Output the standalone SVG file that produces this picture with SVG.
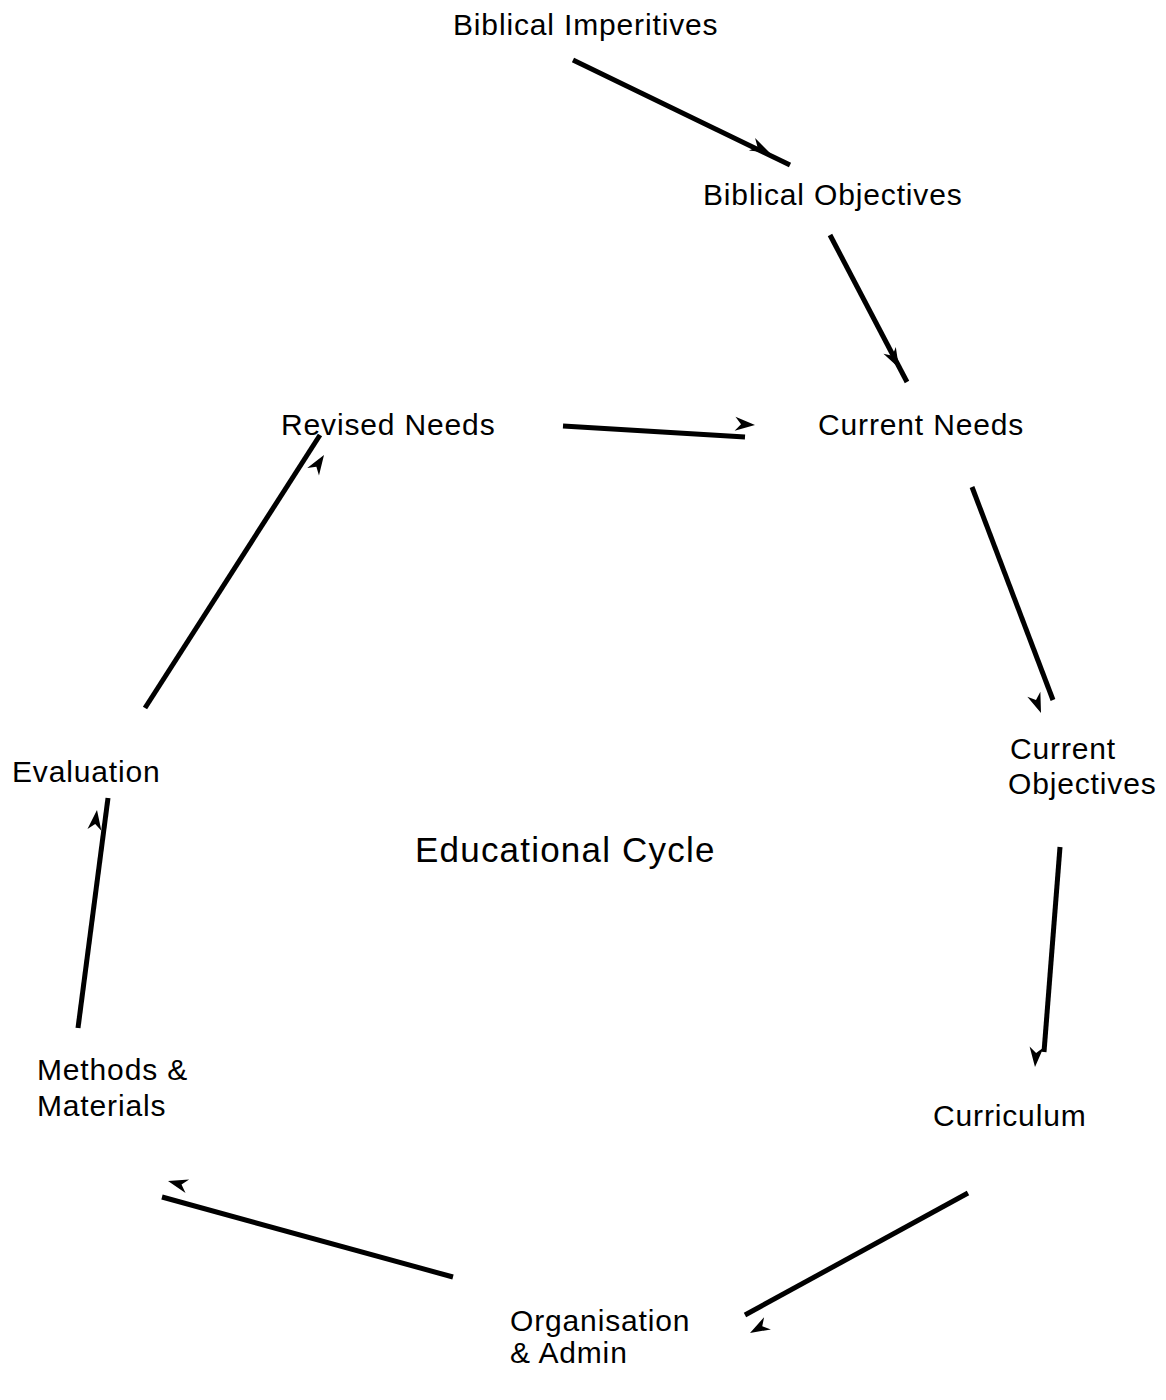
<svg xmlns="http://www.w3.org/2000/svg" xmlns:xlink="http://www.w3.org/1999/xlink" width="1166" height="1400" viewBox="0 0 1166 1400">
<style>
text{font-family:"Liberation Sans",Arial,sans-serif;font-size:30px;fill:#000;letter-spacing:0.85px}
.title{font-size:35px;letter-spacing:1.2px}
.ln{stroke:#000;stroke-width:5;fill:none}
</style>
<defs>
<path id="ah" d="M0,0 L-20,-7 L-14,0 L-20,7 Z" fill="#000"/>
</defs>
<rect width="1166" height="1400" fill="#fff"/>
<g id="n-imperitives"><text x="453" y="35">Biblical Imperitives</text></g>
<g id="n-objectives"><text x="703" y="205">Biblical Objectives</text></g>
<g id="n-current-needs"><text x="818" y="435">Current Needs</text></g>
<g id="n-revised-needs"><text x="281" y="435">Revised Needs</text></g>
<g id="n-current-objectives"><text x="1010" y="759">Current</text><text x="1008" y="794">Objectives</text></g>
<g id="n-evaluation"><text x="12" y="782">Evaluation</text></g>
<g id="n-title"><text class="title" x="415" y="862">Educational Cycle</text></g>
<g id="n-methods"><text x="37" y="1080">Methods &amp;</text><text x="37" y="1116">Materials</text></g>
<g id="n-curriculum"><text x="933" y="1126">Curriculum</text></g>
<g id="n-organisation"><text x="510" y="1331">Organisation</text><text x="510" y="1363">&amp; Admin</text></g>
<g id="connectors">
<line class="ln" x1="573" y1="60" x2="790" y2="165"/>
<use xlink:href="#ah" transform="translate(770,153) rotate(26)"/>
<line class="ln" x1="830" y1="235" x2="907" y2="382"/>
<use xlink:href="#ah" transform="translate(899,368) rotate(62)"/>
<line class="ln" x1="563" y1="426" x2="745" y2="437"/>
<use xlink:href="#ah" transform="translate(755,425) rotate(3.5)"/>
<line class="ln" x1="145" y1="708" x2="320" y2="435"/>
<use xlink:href="#ah" transform="translate(324,455) rotate(-57)"/>
<line class="ln" x1="972" y1="487" x2="1053" y2="700"/>
<use xlink:href="#ah" transform="translate(1041,713) rotate(69)"/>
<line class="ln" x1="1060" y1="847" x2="1044" y2="1052"/>
<use xlink:href="#ah" transform="translate(1035,1067) rotate(94.5)"/>
<line class="ln" x1="968" y1="1193" x2="745" y2="1315"/>
<use xlink:href="#ah" transform="translate(750,1333) rotate(151)"/>
<line class="ln" x1="453" y1="1277" x2="162" y2="1197"/>
<use xlink:href="#ah" transform="translate(168,1181) rotate(-165)"/>
<line class="ln" x1="78" y1="1028" x2="108" y2="798"/>
<use xlink:href="#ah" transform="translate(97,810) rotate(-82.6)"/>
</g>
</svg>
